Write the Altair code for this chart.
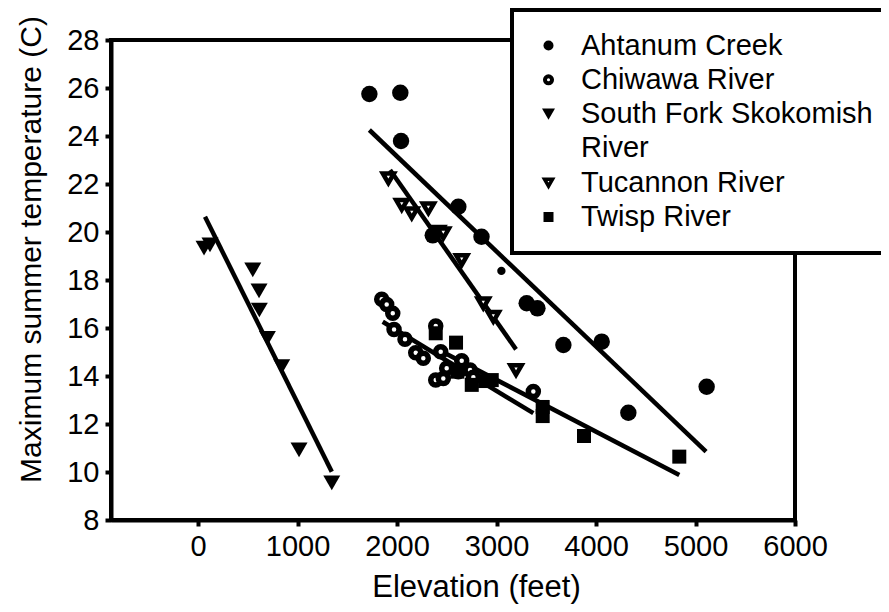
import altair as alt
import pandas as pd

# ---- data ----
series_names = ["Ahtanum Creek", "Chiwawa River", "South Fork Skokomish River",
                "Tucannon River", "Twisp River"]

ahtanum_x = [1722, 2033, 2040, 2359, 2616, 2849, 3303, 3411, 3672, 4057, 4325, 5112]
ahtanum_y = [25.75, 25.80, 23.79, 19.86, 21.05, 19.80, 17.03, 16.82, 15.29, 15.43, 12.47, 13.55]
ahtanum_small_x = [3049]
ahtanum_small_y = [18.38]

chiwawa_x = [1846, 1896, 1957, 1970, 2080, 2188, 2264, 2389, 2439, 2499, 2389, 2465,
             2616, 2650, 2734, 2767, 3370]
chiwawa_y = [17.20, 16.98, 16.61, 15.94, 15.53, 14.97, 14.74, 16.08, 15.01, 14.32, 13.83, 13.90,
             14.18, 14.64, 14.25, 13.95, 13.35]

skokomish_x = [60, 120, 550, 613, 616, 697, 841, 1015, 1344]
skokomish_y = [19.33, 19.46, 18.42, 17.55, 16.75, 15.57, 14.39, 10.92, 9.55]

tucannon_x = [1913, 2047, 2148, 2315, 2415, 2465, 2650, 2867, 2968, 3196]
tucannon_y = [22.24, 21.13, 20.78, 20.99, 20.01, 19.94, 18.83, 17.03, 16.47, 14.25]

twisp_x = [2389, 2593, 2606, 2751, 2885, 2952, 3464, 3464, 3879, 4837]
twisp_y = [15.78, 15.39, 14.18, 13.63, 13.79, 13.83, 12.71, 12.33, 11.50, 10.64]

# fitted lines (start, end) as drawn in the reference
fit_x = {
    "Ahtanum Creek": [1722, 5106],
    "Chiwawa River": [1856, 3370],
    "South Fork Skokomish River": [70, 1344],
    "Tucannon River": [1930, 3196],
    "Twisp River": [2392, 4837],
}
fit_y = {
    "Ahtanum Creek": [24.25, 10.85],
    "Chiwawa River": [16.26, 12.45],
    "South Fork Skokomish River": [20.64, 10.01],
    "Tucannon River": [22.58, 15.11],
    "Twisp River": [15.15, 9.875],
}

x_ticks = [0, 1000, 2000, 3000, 4000, 5000, 6000]
y_ticks = [8, 10, 12, 14, 16, 18, 20, 22, 24, 26, 28]

# ---- tables ----
series_xy = {
    "Ahtanum Creek": (ahtanum_x, ahtanum_y),
    "Chiwawa River": (chiwawa_x, chiwawa_y),
    "South Fork Skokomish River": (skokomish_x, skokomish_y),
    "Tucannon River": (tucannon_x, tucannon_y),
    "Twisp River": (twisp_x, twisp_y),
}
rows = []
for name, (xs, ys) in series_xy.items():
    for a, b in zip(xs, ys):
        rows.append({"series": name, "elev": a, "temp": b})
pts = pd.DataFrame(rows)
small = pd.DataFrame({"series": "Ahtanum Creek", "elev": ahtanum_small_x, "temp": ahtanum_small_y})
lrows = []
for name in series_names:
    for a, b in zip(fit_x[name], fit_y[name]):
        lrows.append({"series": name, "elev": a, "temp": b})
lines = pd.DataFrame(lrows)

X = alt.X("elev:Q", title="Elevation (feet)",
          scale=alt.Scale(domain=[-875, 6000], nice=False, zero=False),
          axis=alt.Axis(values=x_ticks, format="d", labelOverlap=False, labelFlush=False,
                        labelPadding=6, titlePadding=11, titleFontSize=31, titleX=365))
Y = alt.Y("temp:Q", title="Maximum summer temperature (C)",
          scale=alt.Scale(domain=[8, 28], nice=False, zero=False),
          axis=alt.Axis(values=y_ticks, labelOverlap=False, labelFlush=False, labelPadding=6,
                        titlePadding=20, titleFontSize=30, titleY=209))

line_layer = alt.Chart(lines).mark_line(color="black", strokeWidth=4.5).encode(
    x=X, y=Y, detail="series:N")

styles = {
    "Ahtanum Creek": dict(shape="circle", fill="black", stroke="black", strokeWidth=0, size=270),
    "Chiwawa River": dict(shape="circle", fill="white", stroke="black", strokeWidth=5.5, size=100),
    "South Fork Skokomish River": dict(shape="triangle-down", fill="black", stroke="black", strokeWidth=0, size=289),
    "Tucannon River": dict(shape="triangle-down", fill="white", stroke="black", strokeWidth=4.5, size=125),
    "Twisp River": dict(shape="square", fill="black", stroke="black", strokeWidth=0, size=196),
}
point_layers = []
for name in series_names:
    st = styles[name]
    point_layers.append(
        alt.Chart(pts).transform_filter(alt.datum.series == name)
        .mark_point(opacity=1, **st).encode(x="elev:Q", y="temp:Q")
    )
small_layer = alt.Chart(small).mark_point(shape="circle", fill="black", strokeWidth=0,
                                          size=70, opacity=1).encode(x="elev:Q", y="temp:Q")

# legend carrier (invisible marks; legend only)
leg_domain = ["Ahtanum Creek", "Chiwawa River", "South Fork Skokomish River", "River",
              "Tucannon River", "Twisp River"]
legend = alt.Legend(title=None, orient="none", legendX=401, legendY=-30,
                    labelExpr="datum.label == 'South Fork Skokomish River' ? 'South Fork Skokomish' : datum.label",
                    symbolOpacity=1, padding=21, symbolOffset=1, labelOffset=18, rowPadding=4.3,
                    labelLimit=500,
                    labelFontSize=29, labelFont="Liberation Sans", labelColor="black",
                    strokeColor="black", fillColor="white")
legend_layer = alt.Chart(pts).mark_point(opacity=0).encode(
    x="elev:Q", y="temp:Q",
    shape=alt.Shape("series:N", scale=alt.Scale(domain=leg_domain,
                    range=["circle", "circle", "triangle-down", "circle", "triangle-down", "square"]),
                    legend=legend),
    fill=alt.Fill("series:N", scale=alt.Scale(domain=leg_domain,
                  range=["black", "white", "black", "transparent", "white", "black"]), legend=legend),
    stroke=alt.Stroke("series:N", scale=alt.Scale(domain=leg_domain,
                      range=["black", "black", "black", "transparent", "black", "black"]), legend=legend),
    size=alt.Size("series:N", scale=alt.Scale(type="ordinal", domain=leg_domain,
                  range=[100, 50, 169, 0, 64, 100]), legend=legend),
    strokeWidth=alt.StrokeWidth("series:N", scale=alt.Scale(type="ordinal", domain=leg_domain,
                                range=[0, 4, 0, 0, 3.5, 0]), legend=legend),
)

chart = alt.layer(line_layer, *point_layers, small_layer, legend_layer).properties(
    width=684, height=480,
    autosize=alt.AutoSizeParams(type="none"),
    padding={"left": 103, "top": 32, "right": 86, "bottom": 84},
).configure_view(stroke="black", strokeWidth=4).configure_axis(
    domainColor="black", domainWidth=4, tickColor="black", tickWidth=4, tickSize=6,
    grid=False, labelFont="Liberation Sans", labelFontSize=29, labelColor="black",
    titleFont="Liberation Sans", titleFontSize=30, titleFontWeight="normal", titleColor="black",
).configure_legend(strokeWidth=4)

chart.save("out.html", embed_options={"renderer": "svg", "actions": False})
